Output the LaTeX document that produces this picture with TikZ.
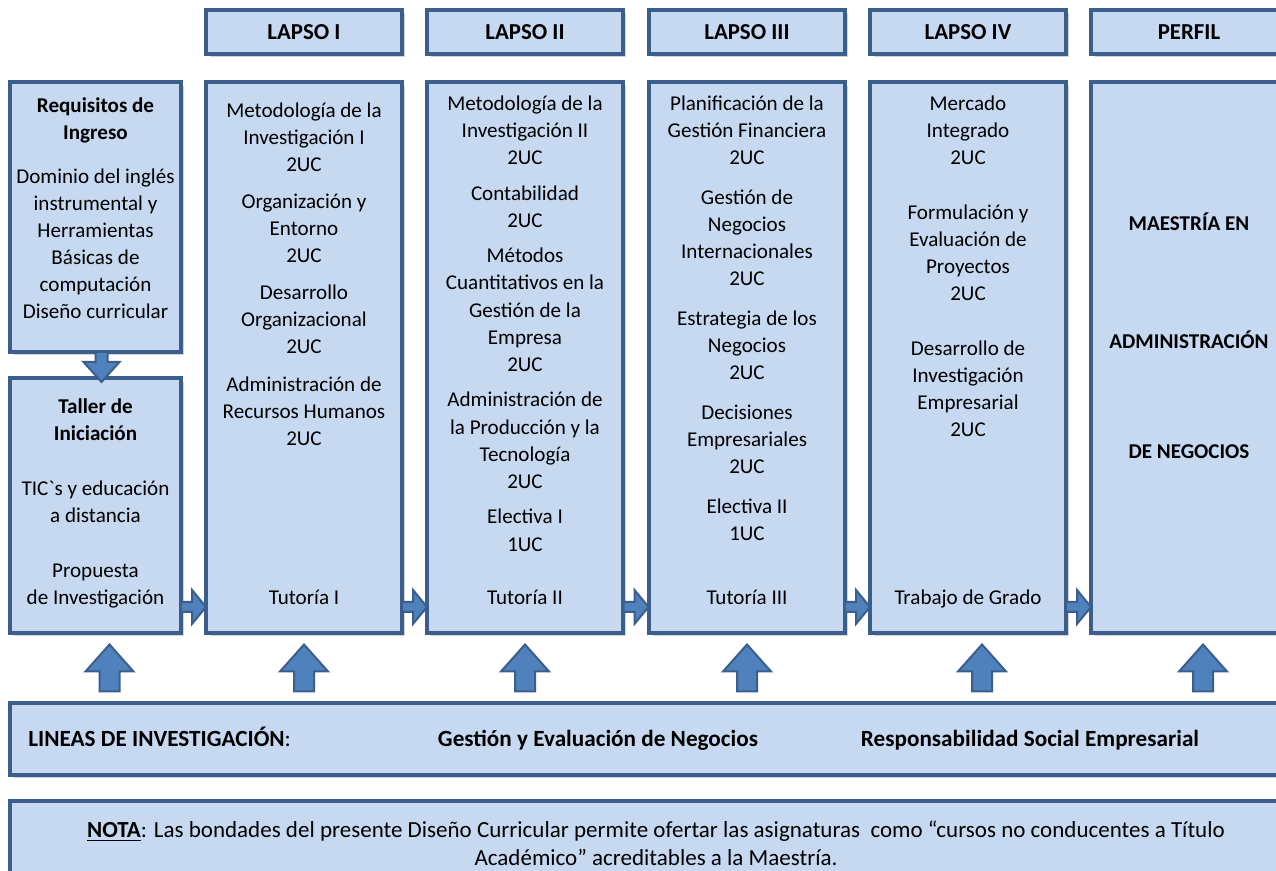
\documentclass[tikz,border=0pt]{standalone}
\usepackage{fontspec}
\setmainfont{Carlito}[Ligatures=TeXOff]
\usetikzlibrary{calc,shadows}
\definecolor{relleno}{HTML}{C6D9F1}
\definecolor{borde}{HTML}{3B5E8C}
\definecolor{flechaazul}{HTML}{4F81BD}
\newcommand{\letra}{\fontsize{12}{15.4}\selectfont}
\newcommand{\letragrande}{\fontsize{13.2}{15.8}\selectfont}
\tikzset{
    caja/.style={draw=borde, line width=0.08cm, fill=relleno, inner sep=0pt,
      drop shadow={shadow xshift=0.07cm, shadow yshift=-0.07cm, opacity=0.35}},
    curso/.style={align=center, anchor=north, inner sep=0pt, font=\letra},
    flechaestilo/.style={draw=borde, line width=0.04cm, fill=flechaazul},
    pics/flecha/.style args={#1/#2/#3/#4}{code={
      \draw[flechaestilo] (-#1/2,-#3) -- (#1/2-#2,-#3) -- (#1/2-#2,-#4) -- (#1/2,0)
        -- (#1/2-#2,#4) -- (#1/2-#2,#3) -- (-#1/2,#3) -- cycle;
    }},
  }

\begin{document}
\begin{tikzpicture}[x=0.02cm,y=-0.02cm]
				  \clip (0,0) rectangle (1276,871);

				  %CABECERAS Y COLUMNAS
				  \foreach \n/\x/\t in {I/304/LAPSO I, II/525/LAPSO II, III/747/LAPSO III, IV/968/LAPSO IV, P/1189/PERFIL}{
				    \node[caja, minimum width=3.92cm, minimum height=0.88cm, font=\fontsize{13}{15.4}\selectfont\bfseries] (cab\n) at (\x,32) {\t};
				    \node[caja, minimum width=3.92cm, minimum height=11.02cm] (col\n) at (\x,357.5) {};
				  }

				  %REQUISITOS, TALLER
				  \node[caja, minimum width=3.42cm, minimum height=5.4cm] (req) at (95.5,217) {};
				  \node[caja, minimum width=3.42cm, minimum height=5.1cm] (tal) at (95.5,505.5) {};

				  %LINEAS, NOTA
				  \node[caja, minimum width=25.6cm, minimum height=1.44cm] (lineas) at (650,739) {};
				  \node[caja, minimum width=25.6cm, minimum height=1.98cm] (nota) at (650,850.5) {};

				  %TEXTOS
				  \node[curso] (treq) at ($(req.north)+(0,17)$) {\textbf{Requisitos de}\\\textbf{Ingreso}\\[9.7pt]
				    Dominio del inglés\\instrumental y\\Herramientas\\Básicas de\\computación\\Diseño curricular};
				  \node[curso] (ttal) at ($(tal.north)+(0,22)$) {\textbf{Taller de}\\\textbf{Iniciación}\\[16pt]
				    TIC`s y educación\\a distancia\\[16pt]Propuesta\\de Investigación};
				  \node[curso] (tI) at ($(colI.north)+(0,22)$) {Metodología de la\\Investigación I\\2UC\\[5.8pt]
				    Organización y\\Entorno\\2UC\\[5.8pt]Desarrollo\\Organizacional\\2UC\\[5.8pt]
				    Administración de\\Recursos Humanos\\2UC};
				  \node[curso] (tII) at ($(colII.north)+(0,15)$) {Metodología de la\\Investigación II\\2UC\\[5pt]
				    Contabilidad\\2UC\\[5pt]Métodos\\Cuantitativos en la\\Gestión de la\\Empresa\\2UC\\[5pt]
				    Administración de\\la Producción y la\\Tecnología\\2UC\\[5pt]Electiva I\\1UC};
				  \node[curso] (tIII) at ($(colIII.north)+(0,15)$) {Planificación de la\\Gestión Financiera\\2UC\\[7.4pt]
				    Gestión de\\Negocios\\Internacionales\\2UC\\[7.4pt]Estrategia de los\\Negocios\\2UC\\[7.4pt]
				    Decisiones\\Empresariales\\2UC\\[7.4pt]Electiva II\\1UC};
				  \node[curso] (tIV) at ($(colIV.north)+(0,15)$) {Mercado\\Integrado\\2UC\\[16pt]
				    Formulación y\\Evaluación de\\Proyectos\\2UC\\[16pt]Desarrollo de\\Investigación\\Empresarial\\2UC};
				  \node[curso, font=\letra\bfseries] (tP) at ($(colP.north)+(0,132)$) {MAESTRÍA EN\\[52pt]ADMINISTRACIÓN\\[47pt]DE NEGOCIOS};

				  %TUTORIAS
				  \foreach \n/\t in {I/Tutoría I, II/Tutoría II, III/Tutoría III, IV/Trabajo de Grado}
				    \node[font=\letra, inner sep=0pt, anchor=base] (tut\n) at ($(col\n.south)+(0,-30)$) {\t};

				  \node[font=\letragrande, anchor=base west, inner sep=0pt] (tlin) at (28,746) {\textbf{LINEAS DE INVESTIGACIÓN}:};
				  \node[font=\letragrande\bfseries, anchor=base, inner sep=0pt] (tgest) at (598,746) {Gestión y Evaluación de Negocios};
				  \node[font=\letragrande\bfseries, anchor=base, inner sep=0pt] (tresp) at (1030,746) {Responsabilidad Social Empresarial};
				  \node[font=\fontsize{13.1}{15.9}\selectfont, align=center, inner sep=0pt] (tnota) at (656,843) {\underline{\textbf{NOTA}}: Las bondades del presente Diseño Curricular permite ofertar las asignaturas\ \ como “cursos no conducentes a Título\\
				    Académico” acreditables a la Maestría.};

				  %FLECHAS
				  \pic[rotate=-90] at ($(req.south)!.5!(tal.north)+(6,2)$) {flecha=30/20/6/18};
				  \foreach \a/\b in {tal/colI, colI/colII, colII/colIII, colIII/colIV, colIV/colP}
				    \pic at ($(\a.south east)!.5!(\b.south west)+(0,-28)$) {flecha=25/14/5/17};
				  \foreach \c/\dx in {tal/14, colI/0, colII/0, colIII/0, colIV/14, colP/14}
				    \pic[rotate=90] at ($(\c.south)!.5!(\c.south |- lineas.north)+(\dx,0)$) {flecha=47/27/10/24};
				  \end{tikzpicture}
\end{document}
